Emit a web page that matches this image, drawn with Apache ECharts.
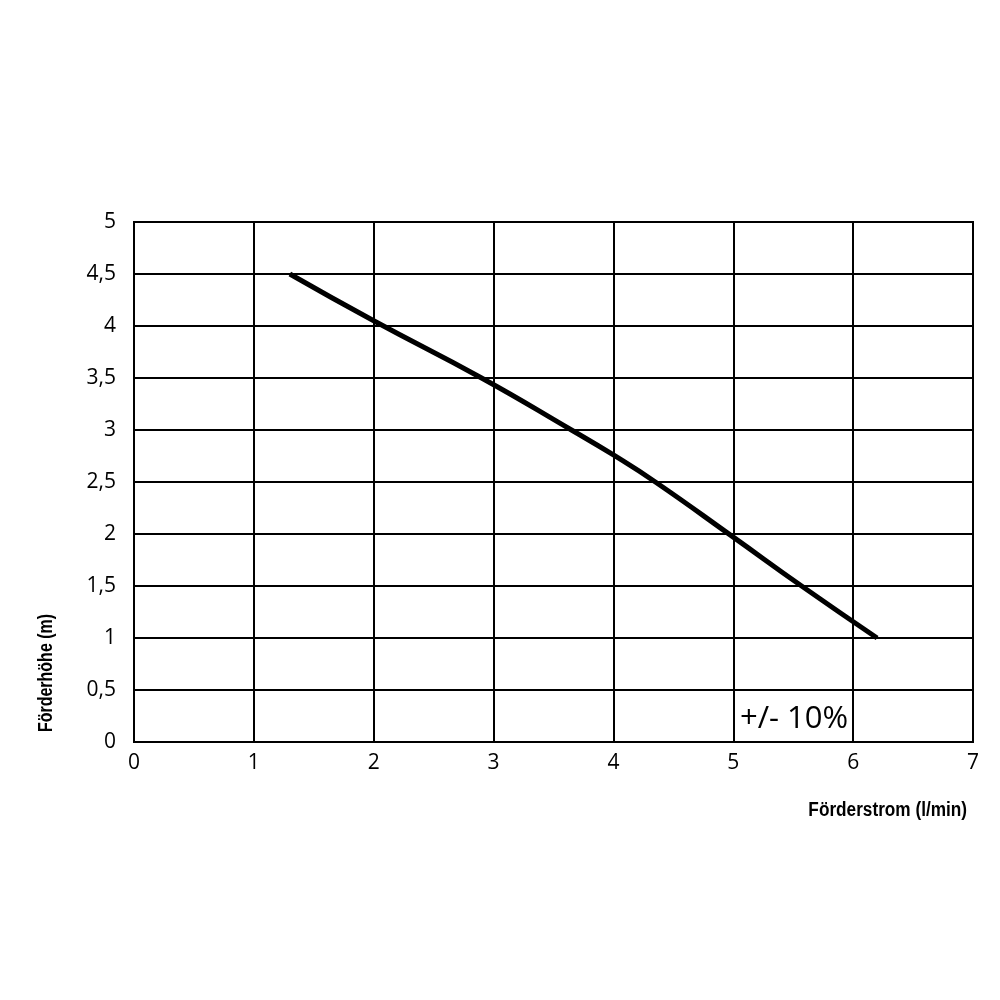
<!DOCTYPE html>
<html><head><meta charset="utf-8">
<script src="https://cdn.jsdelivr.net/npm/echarts@6/dist/echarts.min.js"></script>
<style>html,body{margin:0;padding:0;background:#fff}#c{width:1000px;height:1000px}</style>
</head><body><div id="c"></div>
<script>
const flow = [1.3, 2.0, 2.9, 3.65, 4.0, 4.35, 5.0, 5.57, 6.2];
const head = [4.5, 4.05, 3.5, 3.0, 2.76, 2.5, 1.97, 1.5, 1.0];
const xName = 'Förderstrom (l/min)';
const yName = 'Förderhöhe (m)';
const note = '+/- 10%';

const chart = echarts.init(document.getElementById('c'));
const tickFont = {color:'#000', fontSize:21, fontFamily:'Open Sans, DejaVu Sans, sans-serif'};
chart.setOption({
  animation:false,
  grid:{left:134, top:222, right:27, bottom:258},
  xAxis:{type:'value', min:0, max:7, interval:1,
    axisLine:{show:false}, axisTick:{show:false},
    axisLabel:Object.assign({margin:11}, tickFont),
    splitLine:{show:true, lineStyle:{color:'#000', width:2}}},
  yAxis:{type:'value', min:0, max:5, interval:0.5,
    axisLine:{show:false}, axisTick:{show:false},
    axisLabel:Object.assign({margin:18, formatter:v=>String(v).replace('.',',')}, tickFont),
    splitLine:{show:true, lineStyle:{color:'#000', width:2}}},
  graphic:[
    {type:'rect', shape:{x:134, y:222, width:839, height:520}, style:{fill:'none', stroke:'#000', lineWidth:2}, z:1},
    {type:'text', x:967, y:810, scaleX:0.86, style:{text:xName, fill:'#000', font:'bold 20px "Liberation Sans", Arial, sans-serif', textAlign:'right', textVerticalAlign:'middle'}},
    {type:'text', x:46, y:673, rotation:Math.PI/2, scaleX:0.8, style:{text:yName, fill:'#000', font:'bold 20px "Liberation Sans", Arial, sans-serif', textAlign:'center', textVerticalAlign:'middle'}},
    {type:'text', x:794, y:719, style:{text:note, fill:'#000', font:'31px "Open Sans", sans-serif', textAlign:'center', textVerticalAlign:'middle'}}
  ],
  series:[{type:'line', data:flow.map((x,i)=>[x, head[i]]), smooth:0.5, showSymbol:false,
    lineStyle:{color:'#000', width:5}, z:5}]
});
</script></body></html>
